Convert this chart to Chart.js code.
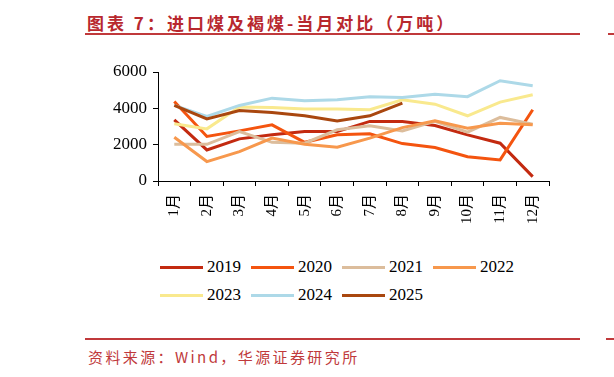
<!DOCTYPE html>
<html>
<head>
<meta charset="utf-8">
<script src="https://cdn.jsdelivr.net/npm/chart.js@4"></script>
<style>
  body { margin: 0; background: #fff; }
  #page { position: relative; width: 614px; height: 377px; overflow: hidden; }
  .title { position: absolute; left: 87px; top: 10px; font: bold 17px "Noto Sans CJK SC"; color: #b8282e; letter-spacing: 3px; white-space: nowrap; }
  .rule { position: absolute; height: 2px; background: #c0393b; }
  .source { position: absolute; left: 88px; top: 346px; font: 15px "Noto Sans CJK SC"; color: #c0393b; letter-spacing: 2.4px; white-space: nowrap; }
  #chartBox { position: absolute; left: 0; top: 0; width: 614px; height: 250px; }
  #legend { position: absolute; left: 160px; top: 257px; width: 400px; }
  .item { position: absolute; display: flex; align-items: center; font: 17px "Liberation Serif"; color: #000; }
  .item span.sw { display: inline-block; width: 43px; height: 3px; margin-right: 4px; }
</style>
</head>
<body>
<div id="page">
  <div class="title">图表 7：进口煤及褐煤-当月对比（万吨）</div>
  <div class="rule" style="left:85px; top:33px; width:495px;"></div>
  <div class="rule" style="left:608px; top:33px; width:6px;"></div>
  <div id="chartBox"><canvas id="chart-coal"></canvas></div>
  <div id="legend"></div>
  <div class="rule" style="left:85px; top:338px; width:495px;"></div>
  <div class="rule" style="left:606px; top:338px; width:8px;"></div>
  <div class="source">资料来源：Wind，华源证券研究所</div>
</div>
<script>
const months = ['1月', '2月', '3月', '4月', '5月', '6月', '7月', '8月', '9月', '10月', '11月', '12月'];
const yearLabels = ['2019', '2020', '2021', '2022', '2023', '2024', '2025'];
const yTicks = [0, 2000, 4000, 6000];

const y2019 = [3370, 1710, 2320, 2540, 2720, 2720, 3280, 3280, 3050, 2540, 2080, 240];
const y2020 = [4380, 2450, 2760, 3090, 2130, 2540, 2600, 2060, 1840, 1340, 1160, 3920];
const y2021 = [2020, 2020, 2720, 2130, 2080, 2820, 3040, 2760, 3280, 2690, 3500, 3130];
const y2022 = [2410, 1070, 1620, 2360, 2020, 1860, 2360, 2940, 3310, 2910, 3180, 3090];
const y2023 = [3150, 2870, 4070, 4050, 3970, 3970, 3920, 4470, 4230, 3590, 4340, 4750];
const y2024 = [4160, 3550, 4160, 4560, 4420, 4470, 4640, 4600, 4780, 4640, 5520, 5240];
const y2025 = [4160, 3420, 3880, 3770, 3590, 3310, 3590, 4290];

const seriesValues = [y2019, y2020, y2021, y2022, y2023, y2024, y2025];
const lineColors = ['#c32a10', '#f4540f', '#dcbd9c', '#f7984d', '#f9e98e', '#add9e8', '#a9470f'];

const datasets = yearLabels.map((label, i) => ({
  label: label,
  data: seriesValues[i],
  borderColor: lineColors[i],
  backgroundColor: lineColors[i],
  borderWidth: 3,
  pointRadius: 0,
  tension: 0,
  order: 6 - i
}));

const chart = new Chart(document.getElementById('chart-coal'), {
  type: 'line',
  data: { labels: months, datasets: datasets },
  options: {
    responsive: true,
    maintainAspectRatio: false,
    animation: false,
    layout: { padding: { left: 108, right: 65, top: 72, bottom: 9 } },
    plugins: {
      legend: { display: false },
      tooltip: { enabled: false }
    },
    scales: {
      x: {
        offset: true,
        afterFit: (scale) => { scale.height = 60; },
        border: { color: '#000', width: 1 },
        grid: { offset: true, drawOnChartArea: false, drawTicks: true, tickLength: 5, color: '#000' },
        ticks: {
          minRotation: 90, maxRotation: 90, padding: 8, color: '#000',
          font: { family: '"Liberation Serif", "Noto Sans CJK SC"', size: 15 }
        }
      },
      y: {
        min: 0, max: 6000,
        afterFit: (scale) => { scale.width = 50; },
        afterBuildTicks: (scale) => { scale.ticks = yTicks.map(v => ({ value: v })); },
        border: { color: '#000', width: 1 },
        grid: { drawOnChartArea: false, drawTicks: true, tickLength: 5, color: '#000' },
        ticks: {
          padding: 6, color: '#000',
          callback: (v) => String(v),
          font: { family: '"Liberation Serif"', size: 17 }
        }
      }
    }
  }
});

// legend built from the chart's own datasets, two rows like the original
const legendBox = document.getElementById('legend');
chart.data.datasets.forEach((ds, i) => {
  const item = document.createElement('div');
  item.className = 'item';
  item.style.left = (i % 4) * 91 + 'px';
  item.style.top = Math.floor(i / 4) * 28 + 'px';
  item.innerHTML = '<span class="sw" style="background:' + ds.borderColor + '"></span>' + ds.label;
  legendBox.appendChild(item);
});
</script>
</body>
</html>
